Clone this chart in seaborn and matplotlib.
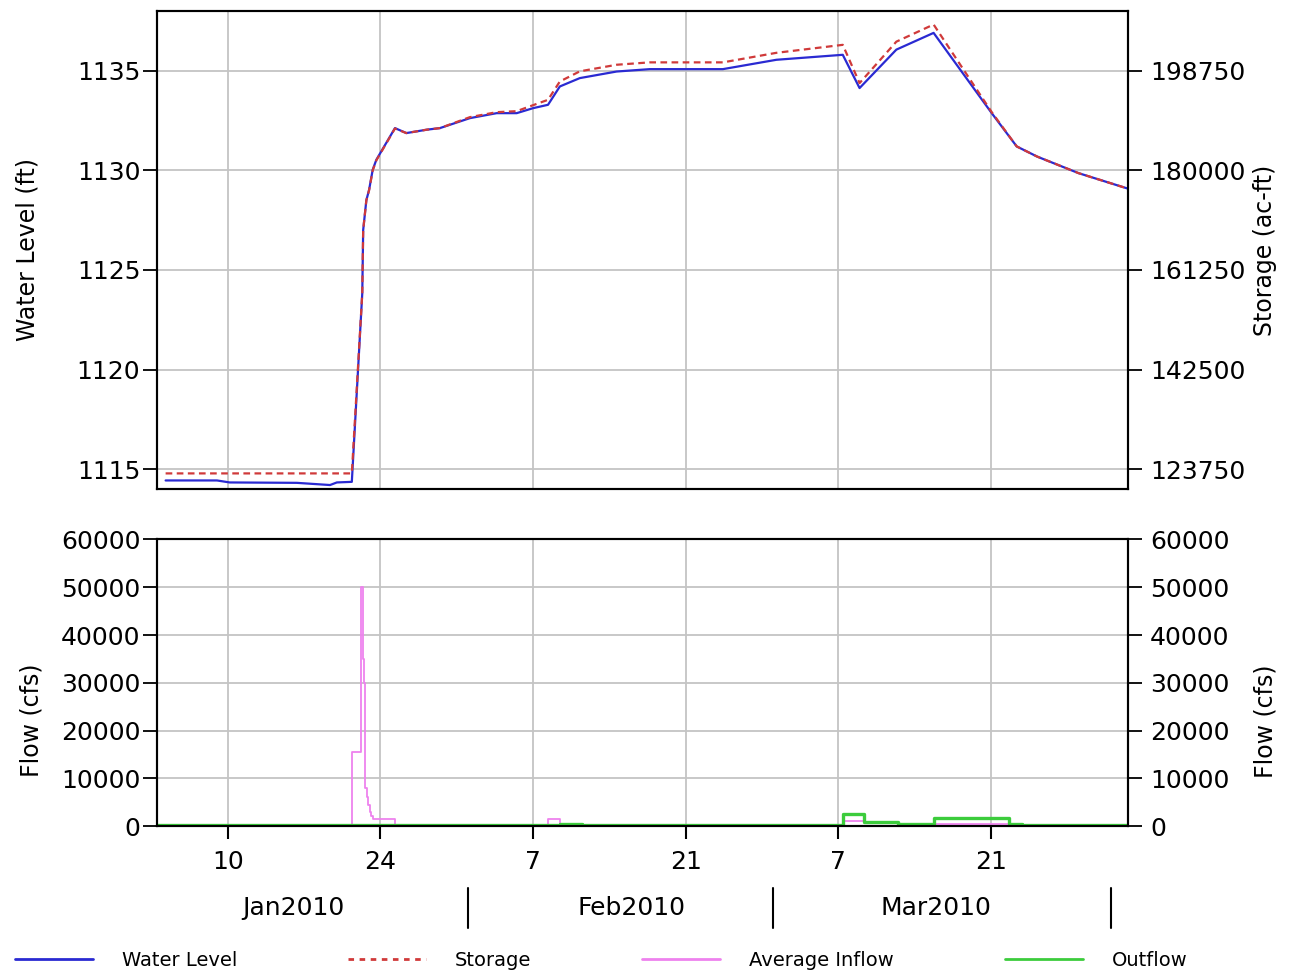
import numpy as np
import pandas as pd
import matplotlib
matplotlib.use("Agg")
import matplotlib.pyplot as plt
import matplotlib.dates as mdates
import matplotlib.transforms as mtransforms
from matplotlib.lines import Line2D
import seaborn as sns

# ---------------- data ----------------
level_dates = ["2010-01-04 07:00", "2010-01-09 00:00", "2010-01-10 04:00", "2010-01-16 08:00",
               "2010-01-19 09:00", "2010-01-20 00:00", "2010-01-21 09:00", "2010-01-22 08:00",
               "2010-01-22 10:00", "2010-01-22 17:00", "2010-01-22 23:00", "2010-01-23 07:00",
               "2010-01-23 15:00", "2010-01-25 08:00", "2010-01-26 09:00", "2010-01-28 06:00",
               "2010-01-29 11:00", "2010-02-01 05:00", "2010-02-03 16:00", "2010-02-05 12:00",
               "2010-02-07 00:00", "2010-02-08 09:00", "2010-02-09 11:00", "2010-02-11 07:00",
               "2010-02-14 16:00", "2010-02-17 17:00", "2010-02-24 10:00", "2010-03-01 08:00",
               "2010-03-07 10:00", "2010-03-08 23:00", "2010-03-12 08:00", "2010-03-15 18:00",
               "2010-03-21 02:00", "2010-03-23 09:00", "2010-03-25 06:00", "2010-03-29 01:00",
               "2010-04-02 14:00"]
water_level = [1114.43, 1114.43, 1114.33, 1114.31, 1114.20, 1114.33, 1114.36, 1123.83,
               1127.00, 1128.50, 1129.02, 1130.03, 1130.53, 1132.12, 1131.87, 1132.04,
               1132.12, 1132.62, 1132.87, 1132.87, 1133.12, 1133.29, 1134.21, 1134.63,
               1134.96, 1135.08, 1135.08, 1135.55, 1135.80, 1134.13, 1136.06, 1136.90,
               1132.87, 1131.20, 1130.69, 1129.86, 1129.08]
storage = [122940, 122940, 122940, 122940, 122940, 122940, 122940, 156860,
           168750, 174375, 176250, 180000, 181875, 187875, 187012, 187650,
           187950, 190012, 190950, 191137, 192262, 193275, 196725, 198637,
           199875, 200325, 200325, 202125, 203625, 196425, 204225, 207450,
           190950, 184500, 182587, 179475, 176550]

inflow_dates = ["2010-01-03 12:00", "2010-01-21 10:00", "2010-01-22 06:00", "2010-01-22 09:00",
                "2010-01-22 12:00", "2010-01-22 15:00", "2010-01-22 18:00", "2010-01-22 21:00",
                "2010-01-23 00:00", "2010-01-23 04:00", "2010-01-23 08:00", "2010-01-25 08:00",
                "2010-02-08 09:00", "2010-02-09 11:00", "2010-02-11 12:00", "2010-03-07 10:00",
                "2010-03-09 08:00", "2010-03-12 11:00", "2010-03-15 18:00", "2010-03-22 16:00",
                "2010-03-23 20:00", "2010-04-02 14:00"]
avg_inflow = [0, 15500, 50000, 35000,
              30000, 8000, 6000, 4500,
              3000, 2000, 1500, 0,
              1500, 400, 0, 1000,
              900, 300, 400, 200,
              0, 0]

outflow_dates = ["2010-01-03 12:00", "2010-02-09 11:00", "2010-02-11 12:00", "2010-03-07 10:00",
                 "2010-03-09 08:00", "2010-03-12 11:00", "2010-03-15 18:00", "2010-03-22 16:00",
                 "2010-03-23 20:00", "2010-04-02 14:00"]
outflow = [300, 500, 300, 2600, 900, 500, 1600, 500, 300, 300]

day_ticks = ["2010-01-10", "2010-01-24", "2010-02-07", "2010-02-21", "2010-03-07", "2010-03-21"]
day_labels = ["10", "24", "7", "21", "7", "21"]
month_names = ["Jan2010", "Feb2010", "Mar2010"]
month_centers = ["2010-01-16", "2010-02-16", "2010-03-16"]
month_bounds = ["2010-02-01", "2010-03-01", "2010-04-01"]
level_ticks = [1115, 1120, 1125, 1130, 1135]
storage_ticks = [123750, 142500, 161250, 180000, 198750]
flow_ticks = [0, 10000, 20000, 30000, 40000, 50000, 60000]
x_range = ["2010-01-03 12:00", "2010-04-02 14:00"]
level_range = [1114, 1138]
storage_range = [120000, 210000]
flow_range = [0, 60000]

# ---------------- style ----------------
sns.set_style("white")
plt.rcParams["font.family"] = ["DejaVu Sans"]
plt.rcParams["axes.linewidth"] = 1.5
plt.rcParams["text.color"] = "black"
plt.rcParams["axes.labelcolor"] = "black"
plt.rcParams["xtick.color"] = "black"
plt.rcParams["ytick.color"] = "black"

C_LEVEL = "#2a2ad2"
C_STOR = "#d03a3a"
C_IN = "#ee82ee"
C_OUT = "#3ccc3c"
GRID = "#c4c4c4"

fig = plt.figure(figsize=(12.9, 9.8), dpi=100)
ax1 = fig.add_axes([0.1217, 0.5010, 0.7527, 0.4878])
ax3 = fig.add_axes([0.1217, 0.1571, 0.7527, 0.2924])

lv = pd.DataFrame({"date": pd.to_datetime(level_dates), "level": water_level, "storage": storage})
fi = pd.DataFrame({"date": pd.to_datetime(inflow_dates), "flow": avg_inflow})
fo = pd.DataFrame({"date": pd.to_datetime(outflow_dates), "flow": outflow})
xr = pd.to_datetime(x_range)
ticks_dt = pd.to_datetime(day_ticks)

# ---------------- top panel ----------------
sns.lineplot(data=lv, x="date", y="level", ax=ax1, color=C_LEVEL, lw=1.6,
             estimator=None, legend=False)
ax2 = ax1.twinx()
sns.lineplot(data=lv, x="date", y="storage", ax=ax2, color=C_STOR, lw=1.6,
             estimator=None, legend=False, linestyle=(0, (3, 2)))

ax1.set_xlim(xr[0], xr[1])
ax1.set_ylim(*level_range)
ax2.set_ylim(*storage_range)
ax1.set_yticks(level_ticks)
ax2.set_yticks(storage_ticks)
ax1.set_xticks(ticks_dt)
ax1.tick_params(axis="x", length=0, labelbottom=False)
ax1.grid(True, color=GRID, lw=1.3)
ax1.set_axisbelow(True)
ax2.grid(False)
ax1.tick_params(axis="y", direction="out", length=10, width=1.3, labelsize=18, pad=2,
                left=True, colors="black")
ax2.tick_params(axis="y", direction="out", length=10, width=1.3, labelsize=18, pad=6,
                right=True, colors="black")
ax1.set_xlabel("")
ax1.set_ylabel("Water Level (ft)", fontsize=17, color="black")
ax2.set_ylabel("Storage (ac-ft)", fontsize=17, color="black")
ax1.yaxis.set_label_coords(-0.1205, 0.5)
ax2.yaxis.set_label_coords(1.1288, 0.5)
for a in (ax1, ax2):
    for s in a.spines.values():
        s.set_color("black")
        s.set_linewidth(1.5)

# ---------------- bottom panel ----------------
sns.lineplot(data=fi, x="date", y="flow", ax=ax3, color=C_IN, lw=1.3,
             estimator=None, legend=False, drawstyle="steps-post")
sns.lineplot(data=fo, x="date", y="flow", ax=ax3, color=C_OUT, lw=2.4,
             estimator=None, legend=False, drawstyle="steps-post")
ax4 = ax3.twinx()
ax3.set_xlim(xr[0], xr[1])
ax3.set_ylim(*flow_range)
ax4.set_ylim(*flow_range)
ax3.set_yticks(flow_ticks)
ax4.set_yticks(flow_ticks)
ax3.set_xticks(ticks_dt)
ax3.set_xticklabels(day_labels)
ax3.grid(True, color=GRID, lw=1.3)
ax3.set_axisbelow(True)
ax4.grid(False)
ax3.tick_params(axis="x", direction="out", length=9, width=1.5, labelsize=18, pad=8,
                bottom=True, colors="black")
ax3.tick_params(axis="y", direction="out", length=10, width=1.3, labelsize=18, pad=2,
                left=True, colors="black")
ax4.tick_params(axis="y", direction="out", length=10, width=1.3, labelsize=18, pad=6,
                right=True, colors="black")
ax3.set_xlabel("")
ax3.set_ylabel("Flow (cfs)", fontsize=17, color="black")
ax4.set_ylabel("Flow (cfs)", fontsize=17, color="black")
ax3.yaxis.set_label_coords(-0.117, 0.37)
ax4.yaxis.set_label_coords(1.1288, 0.365)
for a in (ax3, ax4):
    for s in a.spines.values():
        s.set_color("black")
        s.set_linewidth(1.5)

# month labels and separators
trans = mtransforms.blended_transform_factory(ax3.transData, ax3.transAxes)
for name, mid in zip(month_names, pd.to_datetime(month_centers)):
    ax3.text(mdates.date2num(mid), -0.287, name, transform=trans, ha="center", va="center",
             fontsize=18, color="black")
for b in pd.to_datetime(month_bounds):
    xb = mdates.date2num(b)
    ax3.plot([xb, xb], [-0.217, -0.357], transform=trans, color="black", lw=1.5,
             clip_on=False)

# ---------------- legend ----------------
handles = [Line2D([], [], color=C_LEVEL, lw=2),
           Line2D([], [], color=C_STOR, lw=2, linestyle=(0, (2, 2))),
           Line2D([], [], color=C_IN, lw=2),
           Line2D([], [], color=C_OUT, lw=2)]
labels = ["Water Level", "Storage", "Average Inflow", "Outflow"]
fig.legend(handles, labels, ncol=4, loc="center left", bbox_to_anchor=(0.0116, 0.0204),
           frameon=False, fontsize=14, handlelength=4.0, handletextpad=1.5,
           columnspacing=5.7, borderpad=0, borderaxespad=0)

fig.savefig("out.png", dpi=100)
